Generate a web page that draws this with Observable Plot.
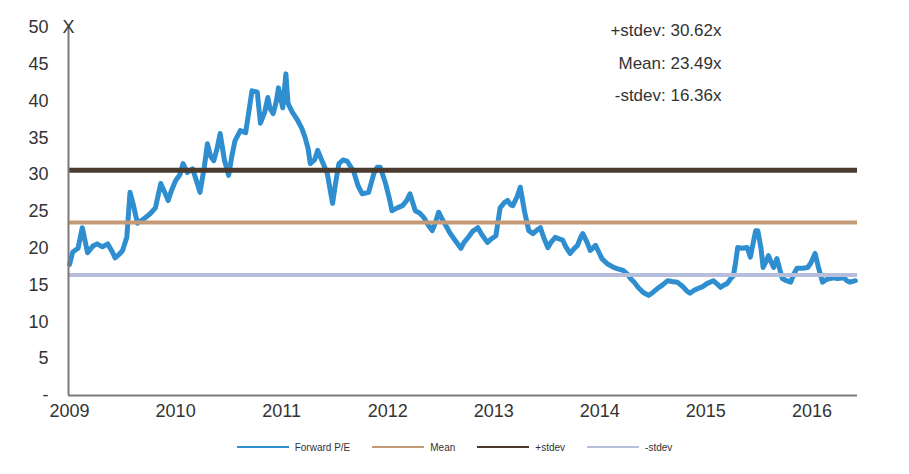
<!DOCTYPE html>
<html>
<head>
<meta charset="utf-8">
<script src="https://cdn.jsdelivr.net/npm/d3@7"></script>
<script src="https://cdn.jsdelivr.net/npm/@observablehq/plot@0.6"></script>
<style>
  body { margin: 0; background: #fff; font-family: "Liberation Sans", Arial, sans-serif; }
  #legend { display: flex; justify-content: center; align-items: center; gap: 22px; margin-top: 14px; font-size: 10px; color: #333; height: 16px; padding-left: 0px; }
  #legend .item { display: flex; align-items: center; gap: 6px; }
  #legend .sw { width: 52px; height: 2px; }
</style>
</head>
<body>
<div id="chart"></div>
<div id="legend"></div>
<script>
// Time (decimal year) and Forward P/E values
const years = [
  2009.00, 2009.03, 2009.08, 2009.12, 2009.17, 2009.22, 2009.26, 2009.31, 2009.36, 2009.40,
  2009.43, 2009.47, 2009.50, 2009.54, 2009.57, 2009.60, 2009.64, 2009.70, 2009.76, 2009.81,
  2009.86, 2009.90, 2009.93, 2009.96, 2010.00, 2010.04, 2010.07, 2010.11, 2010.16, 2010.20,
  2010.23, 2010.27, 2010.30, 2010.33, 2010.36, 2010.39, 2010.42, 2010.46, 2010.50, 2010.53,
  2010.56, 2010.61, 2010.66, 2010.69, 2010.72, 2010.77, 2010.80, 2010.84, 2010.87, 2010.89,
  2010.92, 2010.95, 2010.97, 2011.01, 2011.04, 2011.06, 2011.10, 2011.15, 2011.19, 2011.22,
  2011.25, 2011.27, 2011.31, 2011.34, 2011.38, 2011.43, 2011.48, 2011.51, 2011.54, 2011.58,
  2011.62, 2011.68, 2011.72, 2011.76, 2011.82, 2011.87, 2011.90, 2011.93, 2011.98, 2012.02,
  2012.04, 2012.09, 2012.14, 2012.18, 2012.21, 2012.26, 2012.30, 2012.34, 2012.38, 2012.42,
  2012.45, 2012.48, 2012.52, 2012.56, 2012.59, 2012.64, 2012.69, 2012.72, 2012.76, 2012.80,
  2012.85, 2012.89, 2012.94, 2012.98, 2013.02, 2013.06, 2013.10, 2013.13, 2013.16, 2013.18,
  2013.22, 2013.25, 2013.29, 2013.33, 2013.37, 2013.41, 2013.44, 2013.47, 2013.51, 2013.54,
  2013.58, 2013.61, 2013.65, 2013.68, 2013.72, 2013.76, 2013.79, 2013.82, 2013.84, 2013.88,
  2013.91, 2013.96, 2013.99, 2014.02, 2014.07, 2014.13, 2014.17, 2014.22, 2014.26, 2014.29,
  2014.33, 2014.36, 2014.41, 2014.46, 2014.50, 2014.54, 2014.59, 2014.64, 2014.68, 2014.73,
  2014.79, 2014.82, 2014.85, 2014.89, 2014.92, 2014.97, 2015.01, 2015.07, 2015.11, 2015.14,
  2015.17, 2015.20, 2015.23, 2015.26, 2015.28, 2015.30, 2015.34, 2015.39, 2015.42, 2015.45,
  2015.47, 2015.49, 2015.52, 2015.54, 2015.57, 2015.59, 2015.62, 2015.64, 2015.67, 2015.70,
  2015.72, 2015.76, 2015.80, 2015.83, 2015.86, 2015.91, 2015.96, 2015.99, 2016.03, 2016.06,
  2016.10, 2016.13, 2016.17, 2016.21, 2016.24, 2016.30, 2016.33, 2016.36, 2016.41
];
const forwardPE = [
  17.8, 19.5, 20.0, 22.8, 19.4, 20.3, 20.6, 20.2, 20.6, 19.6,
  18.7, 19.2, 19.7, 21.5, 27.6, 26.0, 23.4, 24.0, 24.7, 25.5,
  28.8, 27.5, 26.5, 27.8, 29.2, 30.0, 31.5, 30.3, 30.8, 29.0,
  27.6, 31.0, 34.2, 32.5, 31.9, 33.5, 35.6, 32.0, 29.9, 32.5,
  34.6, 36.0, 35.7, 38.5, 41.4, 41.2, 37.0, 38.5, 40.5, 39.0,
  38.3, 40.0, 41.8, 39.1, 43.7, 39.7, 38.5, 37.4, 36.3, 35.1,
  33.5, 31.5, 32.0, 33.3, 31.9, 30.2, 26.1, 29.0, 31.5, 32.0,
  31.8, 30.4, 28.5, 27.4, 27.6, 30.2, 31.0, 31.0, 28.8, 26.5,
  25.1, 25.5, 25.8, 26.5, 27.4, 25.1, 24.8, 24.2, 23.2, 22.4,
  23.5, 24.9, 23.8, 22.8, 22.0, 21.0, 20.0, 20.8, 21.5, 22.3,
  22.8, 21.8, 20.8, 21.3, 21.7, 25.5, 26.2, 26.5, 25.9, 25.8,
  27.0, 28.3, 25.0, 22.4, 22.0, 22.5, 22.8, 21.5, 20.1, 20.8,
  21.5, 21.3, 21.1, 20.2, 19.3, 20.0, 20.4, 21.5, 22.0, 20.8,
  19.7, 20.4, 19.5, 18.6, 17.9, 17.4, 17.2, 17.0, 16.5, 15.9,
  15.3, 14.7, 14.0, 13.6, 14.0, 14.5, 15.0, 15.6, 15.5, 15.4,
  14.7, 14.2, 13.9, 14.3, 14.5, 14.8, 15.2, 15.6, 15.1, 14.7,
  15.0, 15.2, 15.8, 16.3, 18.0, 20.1, 20.0, 20.1, 18.8, 21.0,
  22.4, 22.4, 20.0, 17.4, 18.3, 19.0, 18.0, 17.4, 18.6, 17.0,
  15.9, 15.6, 15.4, 16.5, 17.3, 17.3, 17.4, 18.0, 19.3, 17.5,
  15.4, 15.7, 15.9, 16.0, 15.9, 16.0, 15.6, 15.4, 15.6
];

// Reference levels
const statNames = ["+stdev", "Mean", "-stdev"];
const statValues = [30.62, 23.49, 16.36];
const statColors = ["#4b3a2e", "#c49b76", "#b6bedc"];
const statWidths = [5, 4, 4];

const yTicks = [0, 5, 10, 15, 20, 25, 30, 35, 40, 45, 50];
const xTicks = [2009, 2010, 2011, 2012, 2013, 2014, 2015, 2016];
const xDomain = [2008.99, 2016.43];
const unitLabel = "X";

const legendNames = ["Forward P/E", "Mean", "+stdev", "-stdev"];
const lineColor = "#2e8ecf";

const data = years.map((t, i) => ({t, v: forwardPE[i]}));
const stats = statNames.map((n, i) => ({name: n, value: statValues[i], color: statColors[i], w: statWidths[i]}));

const axisColor = "#333";
const chart = Plot.plot({
  width: 909,
  height: 425,
  marginLeft: 68,
  marginRight: 52,
  marginTop: 27,
  marginBottom: 30,
  style: {fontFamily: "Liberation Sans, Arial, sans-serif", fontSize: "18px", color: axisColor, background: "white"},
  x: {domain: xDomain, ticks: xTicks, tickFormat: d => String(d), tickSize: 0, tickPadding: 9, label: null},
  y: {domain: [0, 50], ticks: yTicks, tickFormat: d => d === 0 ? "-" : String(d), tickSize: 0, tickPadding: 20, label: null},
  marks: [
    Plot.line(data, {x: "t", y: "v", stroke: lineColor, strokeWidth: 5, strokeLinejoin: "round", strokeLinecap: "round"}),
    ...stats.map(s => Plot.ruleY([s.value], {stroke: s.color, strokeWidth: s.w})),
    Plot.ruleX([xDomain[0]], {stroke: "#7a7a7a", strokeWidth: 2}),
    Plot.ruleY([0], {stroke: "#7a7a7a", strokeWidth: 2}),
    Plot.text([unitLabel], {frameAnchor: "top-left", text: d => d, textAnchor: "middle", lineAnchor: "middle", fontSize: 18, fill: axisColor}),
    Plot.text([stats.map(s => `${s.name}: ${s.value.toFixed(2)}x`).join("\n")], {
      frameAnchor: "top-right", text: d => d, textAnchor: "end", lineAnchor: "top", dx: -136, dy: -14,
      lineHeight: 1.9, fontSize: 17, fill: axisColor
    })
  ]
});
document.getElementById("chart").appendChild(chart);

const legendColors = [lineColor, ...statColors.slice(1, 2), statColors[0], statColors[2]];
const legend = document.getElementById("legend");
legendNames.forEach((n, i) => {
  const it = document.createElement("div");
  it.className = "item";
  const sw = document.createElement("div");
  sw.className = "sw";
  sw.style.background = legendColors[i];
  const tx = document.createElement("span");
  tx.textContent = n;
  it.appendChild(sw); it.appendChild(tx);
  legend.appendChild(it);
});
</script>
</body>
</html>
